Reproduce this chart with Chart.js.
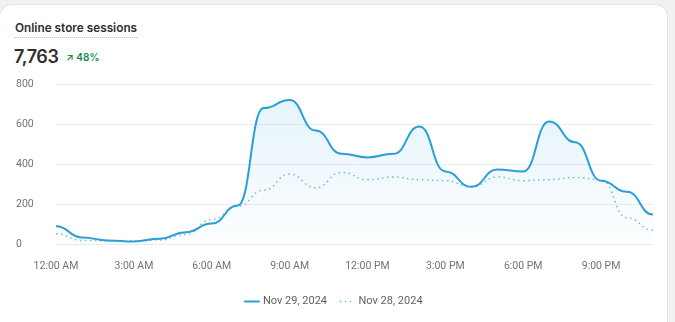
<!DOCTYPE html>
<html>
<head>
<meta charset="utf-8">
<script src="https://cdn.jsdelivr.net/npm/chart.js@4"></script>
<style>
  html, body { margin: 0; padding: 0; background: #f1f1f1; font-family: Inter, "Noto Sans", sans-serif; }
  .card {
    position: absolute; left: 0; top: 5px; width: 667px; height: 330px;
    background: #fff; border-radius: 12px; box-shadow: 0 0 0 1px #e3e3e3;
  }
  .title {
    position: absolute; left: 15px; top: 16px; font-size: 11.8px; font-weight: 600; color: #303030;
    padding-bottom: 1px; border-bottom: 1.5px dotted #b5b5b5; line-height: 15px;
  }
  .total { position: absolute; left: 14px; top: 41px; font-size: 18px; font-weight: 600; color: #303030; letter-spacing: -0.4px; }
  .delta { position: absolute; left: 66px; top: 46px; font-size: 10px; font-weight: 600; color: #0c8a4c; }
  #wrap { position: absolute; left: 0; top: 65px; width: 667px; height: 257px; }
</style>
</head>
<body>
<div class="card">
  <div class="title">Online store sessions</div>
  <div class="total">7,763</div>
  <div class="delta">&#8599; 48%</div>
</div>
<div id="wrap"><canvas id="sessions"></canvas></div>
<script>
const hours = ["12:00 AM","1:00 AM","2:00 AM","3:00 AM","4:00 AM","5:00 AM","6:00 AM","7:00 AM","8:00 AM","9:00 AM","10:00 AM","11:00 AM",
  "12:00 PM","1:00 PM","2:00 PM","3:00 PM","4:00 PM","5:00 PM","6:00 PM","7:00 PM","8:00 PM","9:00 PM","10:00 PM","11:00 PM"];
const nov29 = [90, 35, 20, 15, 28, 61, 104, 194, 680, 720, 568, 452, 434, 452, 588, 364, 287, 373, 364, 613, 510, 318, 262, 149];
const nov28 = [53, 20, 18, 17, 22, 50, 124, 190, 270, 351, 282, 359, 323, 336, 323, 318, 287, 336, 318, 323, 334, 323, 133, 71];
const yTicks = [0, 200, 400, 600, 800];

const ctx = document.getElementById("sessions").getContext("2d");
const fillGrad = ctx.createLinearGradient(0, 20, 0, 180);
fillGrad.addColorStop(0, "rgba(41, 160, 215, 0.13)");
fillGrad.addColorStop(1, "rgba(41, 160, 215, 0.01)");

// horizontal tangents at every point: each segment becomes an S-curve
const bumpCurve = {
  id: "bumpCurve",
  afterUpdate(chart) {
    chart.getSortedVisibleDatasetMetas().forEach((meta) => {
      const line = meta.dataset;
      line.updateControlPoints(chart.chartArea);
      const pts = line.points;
      pts.forEach((p, i) => {
        const prev = pts[i - 1], next = pts[i + 1];
        p.cp1x = prev ? p.x - (p.x - prev.x) / 2 : p.x;
        p.cp1y = p.y;
        p.cp2x = next ? p.x + (next.x - p.x) / 2 : p.x;
        p.cp2y = p.y;
      });
    });
  },
};

const tickFont = { size: 10.5, family: "Roboto" };

new Chart(ctx, {
  type: "line",
  data: {
    labels: hours,
    datasets: [
      {
        label: "Nov 29, 2024",
        data: nov29,
        borderColor: "#2a9fd6",
        borderWidth: 2,
        backgroundColor: fillGrad,
        fill: "origin",
        pointRadius: 0,
        tension: 0.4,
      },
      {
        label: "Nov 28, 2024",
        data: nov28,
        borderColor: "#6fbde3",
        borderWidth: 1.5,
        borderDash: [1.5, 3.5],
        fill: false,
        pointRadius: 0,
        tension: 0.4,
      },
    ],
  },
  plugins: [bumpCurve],
  options: {
    responsive: true,
    maintainAspectRatio: false,
    animation: false,
    layout: { padding: { left: 16, right: 14, top: 19, bottom: 5 } },
    scales: {
      x: {
        grid: { display: false },
        border: { display: false },
        ticks: {
          color: "#737373",
          font: tickFont,
          maxRotation: 0,
          autoSkip: false,
          padding: 8,
          callback: (v, i) => (i % 3 === 0 ? hours[i] : ""),
        },
      },
      y: {
        min: 0,
        max: 800,
        afterBuildTicks: (axis) => { axis.ticks = yTicks.map((v) => ({ value: v })); },
        afterFit: (axis) => { axis.width = 40; },
        grid: { color: "#ebebeb", drawTicks: false },
        border: { display: false },
        ticks: { color: "#737373", font: tickFont, crossAlign: "far" },
      },
    },
    plugins: {
      legend: {
        position: "bottom",
        labels: {
          usePointStyle: true,
          pointStyle: "line",
          boxWidth: 12,
          color: "#616161",
          font: { size: 11, family: "Roboto" },
          padding: 15,
          generateLabels: (chart) => {
            const items = Chart.defaults.plugins.legend.labels.generateLabels(chart);
            items.forEach((item) => {
              const ds = chart.data.datasets[item.datasetIndex];
              item.lineDash = ds.borderDash || [];
              item.lineWidth = ds.borderWidth;
              item.strokeStyle = ds.borderColor;
            });
            return items;
          },
        },
      },
      tooltip: { enabled: false },
    },
  },
});
</script>
</body>
</html>
